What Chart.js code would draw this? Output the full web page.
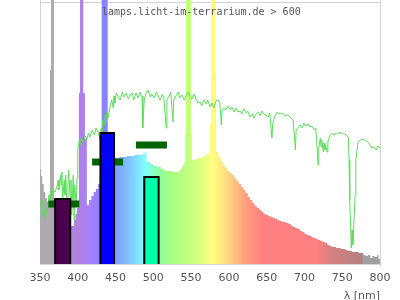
<!DOCTYPE html>
<html><head><meta charset="utf-8">
<script src="https://cdn.jsdelivr.net/npm/chart.js@4/dist/chart.umd.min.js"></script>
<style>html,body{margin:0;padding:0;background:#fff;}#wrap{width:400px;height:300px;}</style>
</head><body><div id="wrap"><canvas id="c" width="400" height="300"></canvas></div>
<script>
// ---- data ----
const xTicks = [350,400,450,500,550,600,650,700,750,800];
const titleText = 'lamps.licht-im-terrarium.de > 600';
const axisTitle = 'λ [nm]';

// lamp spectrum (bin start wavelength, relative intensity)
const specNm = [350,351.5,353,355,357,359,361,362.5,363.2,364.6,368.5,391,395,397,399,401.5,403,407.3,409.5,412,415,418,421,424,427,429,431.6,439.6,444,449,455,460,465,470,475,480,485,489,491,496,500,505,510,515,520,525,530,535,538,541,542.3,543,550.3,551,555,560,565,570,574,575,576.3,581.6,583,586,589,592,595,598,601,604,607,610,613,616,619,622,625,628,631,634,637,640,643,646,649,652,655,658,661,664,667,670,673,676,679,682,685,688,691,694,697,700,703,706,709,712,715,718,721,724,727,730,733,736,739,742,745,748,751,754,757,760,763,766,769,772,775,778,781,784,787,790,793,796,798,800];
const specVal = [95,88,80,72,66,62,63,70,194,400,62,38,44,50,56,171,400,171,125,59,64,68,72,75,80,84,400,100,101,106,107,107,108,108,109,109,110,112,102,100,98,97,95,93,93,92,92,95,98,102,130,400,130,104,105,106,108,110,112,140,400,190,112,107,103,99,96,93,91,89,86,83,80,77,74,71,67,64,61,58,56,54,52,50,49,48,47,46,45,44,43,42,42,41,40,38,37,36,35,33,32,30,29,28,27,26,25,24,23,22,21,19,18,17,17,16,16,15,15,14,13,13,12,12,12,11,11,9,8,9,6,8,7,9,5,7];

// reference sunlight spectrum
const sunNm = [351,353,354,355,357,358,359,361,362,363,
365,366,367,370,373,374,375,377,378,379,
380,382,383,384,386,387,388,390,391,392,
394,395,396,398,399,400,402,403,404,407,
410,412,414,416,419,422,424,427,429,431,
432,433,435,436,437,439,440,443,445,447,
448,449,451,453,456,459,461,464,467,469,
472,474,477,480,482,485,486,488,490,493,
496,498,501,504,506,509,512,514,517,518,
521,523,526,527,530,533,535,538,541,543,
546,549,551,554,557,559,562,564,567,570,
572,575,578,580,583,586,588,590,591,594,
596,599,602,604,607,609,612,615,617,620,
623,625,628,631,633,636,639,641,644,646,
649,652,654,657,658,661,664,666,669,672,
674,677,680,682,685,688,689,692,694,697,
699,702,705,707,710,713,715,717,718,719,
721,722,723,725,726,727,728,730,731,734,
737,739,742,744,747,750,752,755,758,759,
760,762,763,764,766,767,768,770,771,774,
776,779,782,784,787,789,792,795,797,800];
const sunVal = [59,64,49,54,44,56,52,64,69,64,
76,69,74,72,79,84,74,89,79,92,
64,84,69,89,54,79,94,64,84,49,
89,44,79,59,86,114,124,119,126,122,
128,124,131,127,134,129,136,131,126,136,
132,144,139,149,142,154,146,158,164,156,
168,161,171,168,164,172,167,171,165,169,
171,164,171,166,172,168,136,164,170,174,
167,170,166,172,169,164,170,166,136,164,
168,172,142,164,168,172,166,169,164,168,
172,167,165,170,164,161,162,158,164,160,
164,157,161,156,163,164,161,139,154,156,
154,158,154,157,152,156,152,153,150,155,
151,153,147,150,146,150,152,148,153,150,
149,147,151,126,140,148,152,150,151,150,
148,149,148,146,144,114,134,136,139,136,
141,138,140,137,138,134,136,114,99,116,
126,117,124,112,121,114,119,112,122,129,
131,129,131,130,132,130,131,129,127,104,
64,16,34,19,49,69,104,116,122,124,
125,124,123,122,119,116,117,114,118,116];

// LED bars
const barStart = [370, 430, 488];
const barEnd   = [390, 448, 507];
const barVal   = [65, 131, 87];
// dark green level markers
const segStart = [361, 419, 477];
const segEnd   = [402, 460, 518];
const segVal   = [60, 102, 119];
const yGrid = [0, 261];

// ---- styles ----
const frame = '#d3d3d3';
const barColors = ['#4b0050', '#0000ff', '#00ffaa'];
const gradStops = [[350,'#b0a8b0'],[372,'#b0a8b0'],[376,'#b488d8'],[400,'#b080e0'],[415,'#a880ff'],[430,'#9080ff'],[440,'#8088ff'],[455,'#80a8ff'],[470,'#80c8ff'],[482,'#80eaff'],[490,'#80ffff'],[500,'#88ffc8'],[510,'#90ff98'],[525,'#a8ff80'],[545,'#c0ff80'],[560,'#d8ff80'],[578,'#ffff80'],[595,'#ffe080'],[605,'#ffc880'],[618,'#ffa880'],[632,'#ff9080'],[645,'#ff8080'],[715,'#ff8080'],[740,'#d08080'],[776,'#b08080'],[778,'#a0a0a0'],[800,'#a0a0a0']];

function spectrumFill(ctx) {
  const chart = ctx.chart;
  if (!chart.chartArea) return 'rgba(0,0,0,0)';
  const xs = chart.scales.x;
  const l = xs.left, r = xs.right;
  const g = chart.ctx.createLinearGradient(l, 0, r, 0);
  gradStops.forEach(([nm, c]) => {
    const p = (xs.getPixelForValue(nm) - l) / (r - l);
    g.addColorStop(Math.min(1, Math.max(0, p)), c);
  });
  return g;
}

const datasets = [];
barStart.forEach((s, i) => datasets.push({
  data: [{x:s,y:0},{x:s,y:barVal[i]},{x:barEnd[i],y:barVal[i]},{x:barEnd[i],y:0}],
  borderColor:'#000', borderWidth:2, backgroundColor:barColors[i], fill:'origin',
  pointRadius:0, borderJoinStyle:'miter', order:0
}));
segStart.forEach((s, i) => datasets.push({
  data: [{x:s,y:segVal[i]},{x:segEnd[i],y:segVal[i]}],
  borderColor:'#006400', borderWidth:7, borderCapStyle:'butt', fill:false,
  pointRadius:0, order:1
}));
datasets.push({
  data: sunNm.map((n, i) => ({x:n, y:sunVal[i]})),
  borderColor:'#5ddc5d', borderWidth:1, fill:false, pointRadius:0, order:2
});
datasets.push({
  data: specNm.map((n, i) => ({x:n, y:specVal[i]})),
  stepped:true, borderWidth:0, borderColor:'rgba(0,0,0,0)',
  backgroundColor: spectrumFill, fill:'origin', pointRadius:0, order:3
});

const titlePlugin = {
  id:'siteTitle',
  afterDatasetsDraw(chart) {
    const c = chart.ctx;
    c.save();
    c.font = '10px "DejaVu Sans Mono"';
    c.fillStyle = '#555';
    c.textAlign = 'left';
    c.textBaseline = 'alphabetic';
    c.fillText(titleText, 102, 15);
    c.restore();
  }
};

new Chart(document.getElementById('c'), {
  type:'line',
  data:{ datasets },
  plugins:[titlePlugin],
  options:{
    responsive:false, animation:false, devicePixelRatio:1,
    layout:{ autoPadding:false, padding:{left:40, right:20, top:0, bottom:0} },
    plugins:{ legend:{display:false}, tooltip:{enabled:false} },
    scales:{
      x:{
        type:'linear', min:350, max:800,
        afterBuildTicks:(s) => { s.ticks = xTicks.map(v => ({value:v})); },
        afterFit:(s) => { s.height = 36; },
        ticks:{ color:'#555', font:{family:'"DejaVu Sans"', size:11}, padding:4.4, maxRotation:0, autoSkip:false },
        grid:{ color:(c) => (c.tick && c.tick.value === 800) ? frame : 'rgba(0,0,0,0)',
               tickColor:(c) => (c.tick && c.tick.value === 800) ? frame : 'rgba(0,0,0,0)',
               tickLength:3, drawTicks:true },
        border:{ color:frame, width:1 },
        title:{ display:true, text:axisTitle, align:'end', color:'#555',
                font:{family:'"DejaVu Sans"', size:11, lineHeight:0.727}, padding:{top:0, bottom:0} }
      },
      y:{
        type:'linear', min:0, max:264,
        afterBuildTicks:(s) => { s.ticks = yGrid.map(v => ({value:v})); },
        ticks:{ display:false },
        grid:{ drawTicks:false, color:(c) => (c.tick && c.tick.value === 261) ? frame : 'rgba(0,0,0,0)' },
        border:{ color:frame, width:1 }
      }
    }
  }
});
</script></body></html>
